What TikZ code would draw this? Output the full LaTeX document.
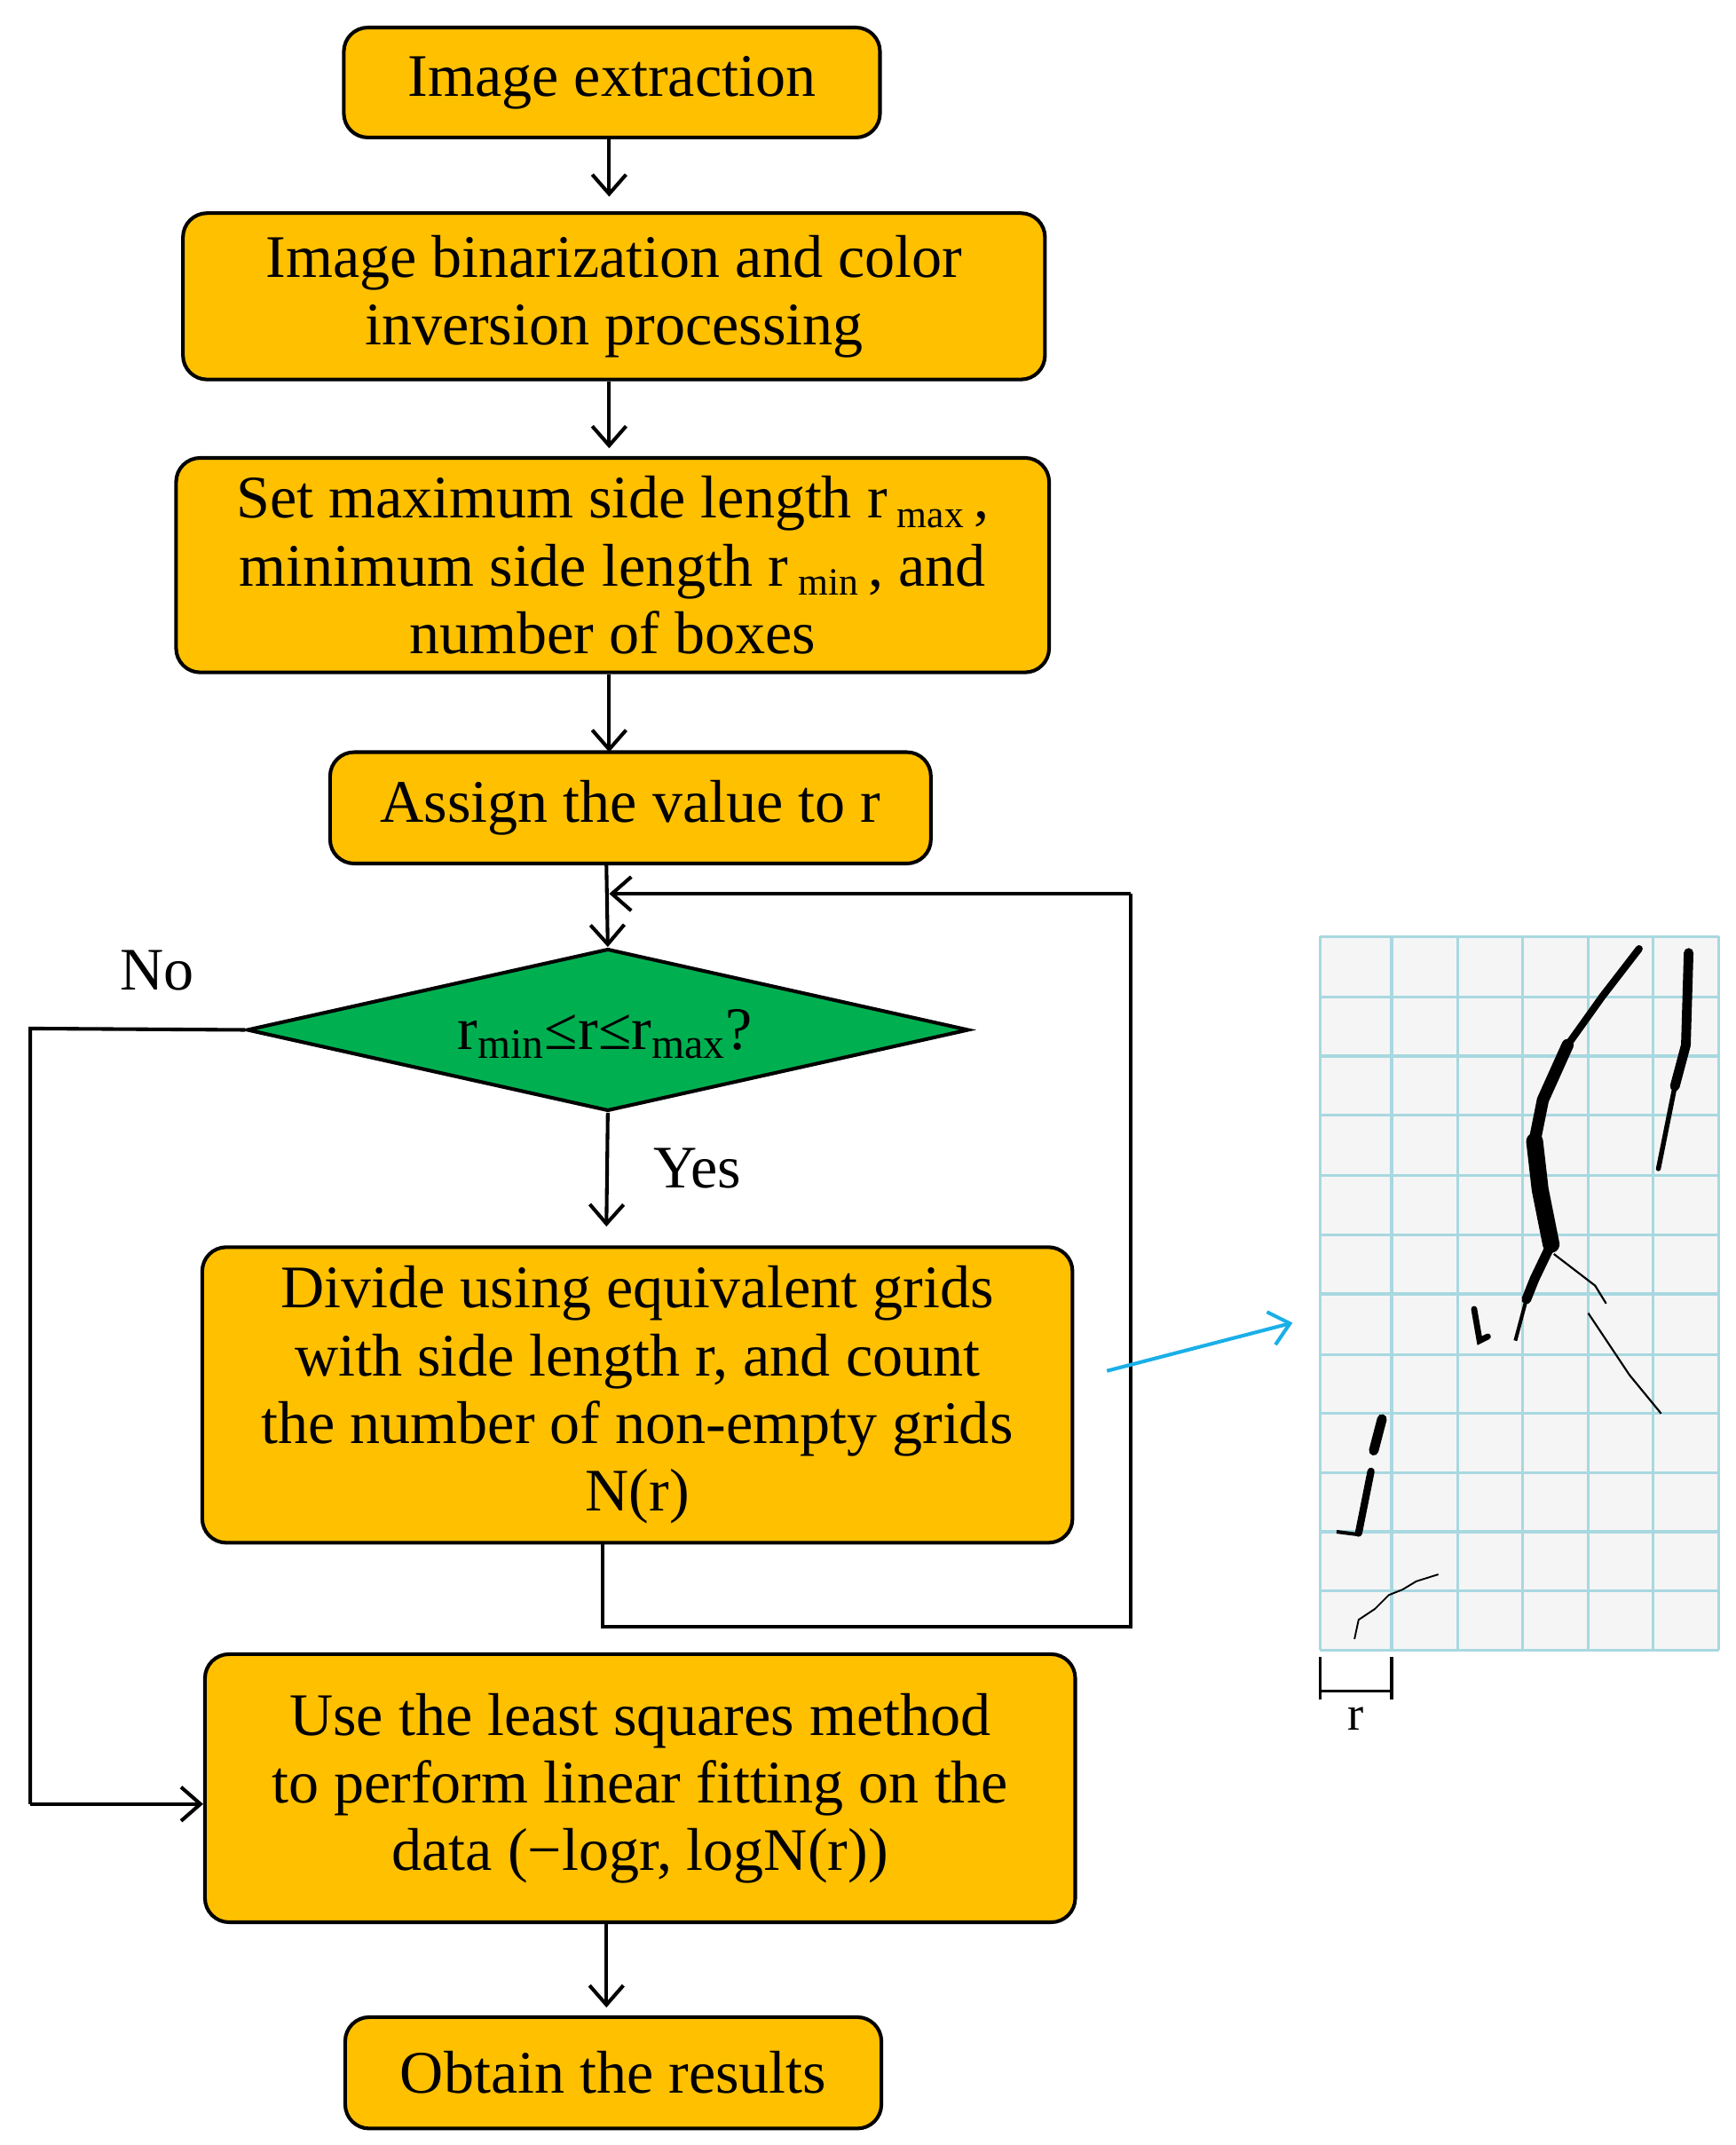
\documentclass[tikz,border=0pt]{standalone}
\usepackage{fontspec}
\setmainfont{Liberation Serif}
\usetikzlibrary{shapes.geometric,arrows.meta}
\definecolor{box}{HTML}{FFC000}
\definecolor{dia}{HTML}{00B050}
\definecolor{gridc}{HTML}{A8D8E0}
\definecolor{blu}{HTML}{1AAFE8}
\begin{document}
\begin{tikzpicture}[x=0.02cm,y=-0.02cm,
  bx/.style={draw=black,line width=1.5pt,fill=box,rounded corners=0.35cm,align=center,inner sep=0pt,font=\fontsize{25}{28}\selectfont},
  ar/.style={line width=1.5pt,-{Straight Barb[length=8pt,width=14pt]}},
  ln/.style={line width=1.5pt},
  lab/.style={font=\fontsize{25}{28}\selectfont}]
\useasboundingbox (0,0) rectangle (1262,1560);
\node[bx,minimum width=7.8cm,minimum height=1.6cm] (a) at (445,60) {Image extraction};
\node[bx,minimum width=12.54cm,minimum height=2.42cm] (b) at (446.5,215.5) {Image binarization and color\\inversion processing};
\node[bx,minimum width=12.7cm,minimum height=3.12cm] (c) at (445.5,411) {Set maximum side length r\,{\fontsize{16}{16}\selectfont\raisebox{-0.25em}{max}}\,,\\minimum side length r\,{\fontsize{16}{16}\selectfont\raisebox{-0.25em}{min}}\,, and\\number of boxes};
\node[bx,minimum width=8.74cm,minimum height=1.62cm] (d) at (458.5,587.5) {Assign the value to r};
\node[diamond,draw=black,line width=1.5pt,fill=dia,aspect=4.45,minimum width=10.5cm,minimum height=2.36cm,inner sep=0pt] (e) at (442,749) {};
\node[lab] at (440,752) {r\textsubscript{min}≤r≤r\textsubscript{max}?};
\node[bx,minimum width=12.66cm,minimum height=4.3cm] (f) at (463.5,1014.5) {Divide using equivalent grids\\with side length r, and count\\the number of non-empty grids\\N(r)};
\node[bx,minimum width=12.66cm,minimum height=3.9cm] (g) at (465.5,1300.5) {Use the least squares method\\to perform linear fitting on the\\data (−logr, logN(r))};
\node[bx,minimum width=7.8cm,minimum height=1.62cm] (h) at (446,1507.5) {Obtain the results};
\draw[ar] (a.south -| 443,0) -- (443,143);
\draw[ar] (b.south -| 443,0) -- (443,326);
\draw[ar] (c.south -| 443,0) -- (443,547);
\draw[ar] (d.south -| 441,0) -- (e.north);
\draw[ar] (e.south) -- (441,892);
\draw[ar] (g.south -| 441,0) -- (441,1460);
\coordinate (l1) at (438,1183); \coordinate (l2) at (822,1183); \coordinate (l3) at (822,650); \coordinate (l4) at (443,650);
\draw[ln] (f.south -| 438,0) -- (l1) -- (l2) -- (l3);
\draw[ar] (l3) -- (l4);
\coordinate (n1) at (22,748); \coordinate (n2) at (22,1312);
\draw[ln] (e.west) -- (n1) -- (n2);
\draw[ar] (n2) -- (g.west |- n2);
\node[lab] at (114,706) {No};
\node[lab] at (507,850) {Yes};
\coordinate (q1) at (805,997); \coordinate (q2) at (940,962);
\draw[blu,line width=1.5pt,-{Straight Barb[length=8pt,width=14pt]}] (q1) -- (q2);
% grid image
\fill[black!4] (960,681) rectangle (1250,1200);
\foreach \x in {960,1012,1060,1107,1155,1202,1250} \draw[gridc,line width=1.2pt] (\x,681) -- (\x,1200);
\foreach \y in {681,725,768,811,855,898,941,985,1028,1071,1114,1157,1200} \draw[gridc,line width=1.2pt] (960,\y) -- (1250,\y);
\draw[line width=3pt,line cap=round] (1192,690) -- (1165,725) -- (1140,760);
\draw[line width=5pt,line cap=round] (1140,760) -- (1122,800) -- (1116,830);
\draw[line width=7pt,line cap=round] (1116,830) -- (1120,865) -- (1128,905);
\draw[line width=4pt,line cap=round] (1128,905) -- (1116,930) -- (1110,945);
\draw[line width=1.5pt] (1110,945) -- (1102,975);
\draw[line width=4pt,line cap=round] (1228,693) -- (1226,760) -- (1218,790);
\draw[line width=2pt,line cap=round] (1218,790) -- (1212,820) -- (1206,850);
\draw[line width=0.8pt] (1130,912) -- (1160,935) -- (1168,948);
\draw[line width=0.8pt] (1155,955) -- (1185,1000) -- (1208,1028);
\draw[line width=2.5pt,line cap=round] (1072,952) -- (1076,975) -- (1082,972);
\draw[line width=4pt,line cap=round] (1005,1032) -- (999,1055);
\draw[line width=3pt,line cap=round] (997,1070) -- (992,1095) -- (988,1115);
\draw[line width=1.5pt] (988,1116) -- (972,1114);
\draw[line width=0.7pt] (985,1192) -- (988,1178) -- (1000,1170) -- (1010,1160) -- (1020,1156) -- (1030,1150) -- (1046,1145);
% scale bar
\coordinate (s1) at (960,1230); \coordinate (s2) at (1012,1230);
\draw[line width=1.2pt] (s1) -- (s2);
\draw[line width=1.2pt] (960,1205) -- (960,1236);
\draw[line width=1.2pt] (1012,1205) -- (1012,1236);
\node[font=\fontsize{20}{22}\selectfont] at (986,1250) {r};
\end{tikzpicture}
\end{document}
